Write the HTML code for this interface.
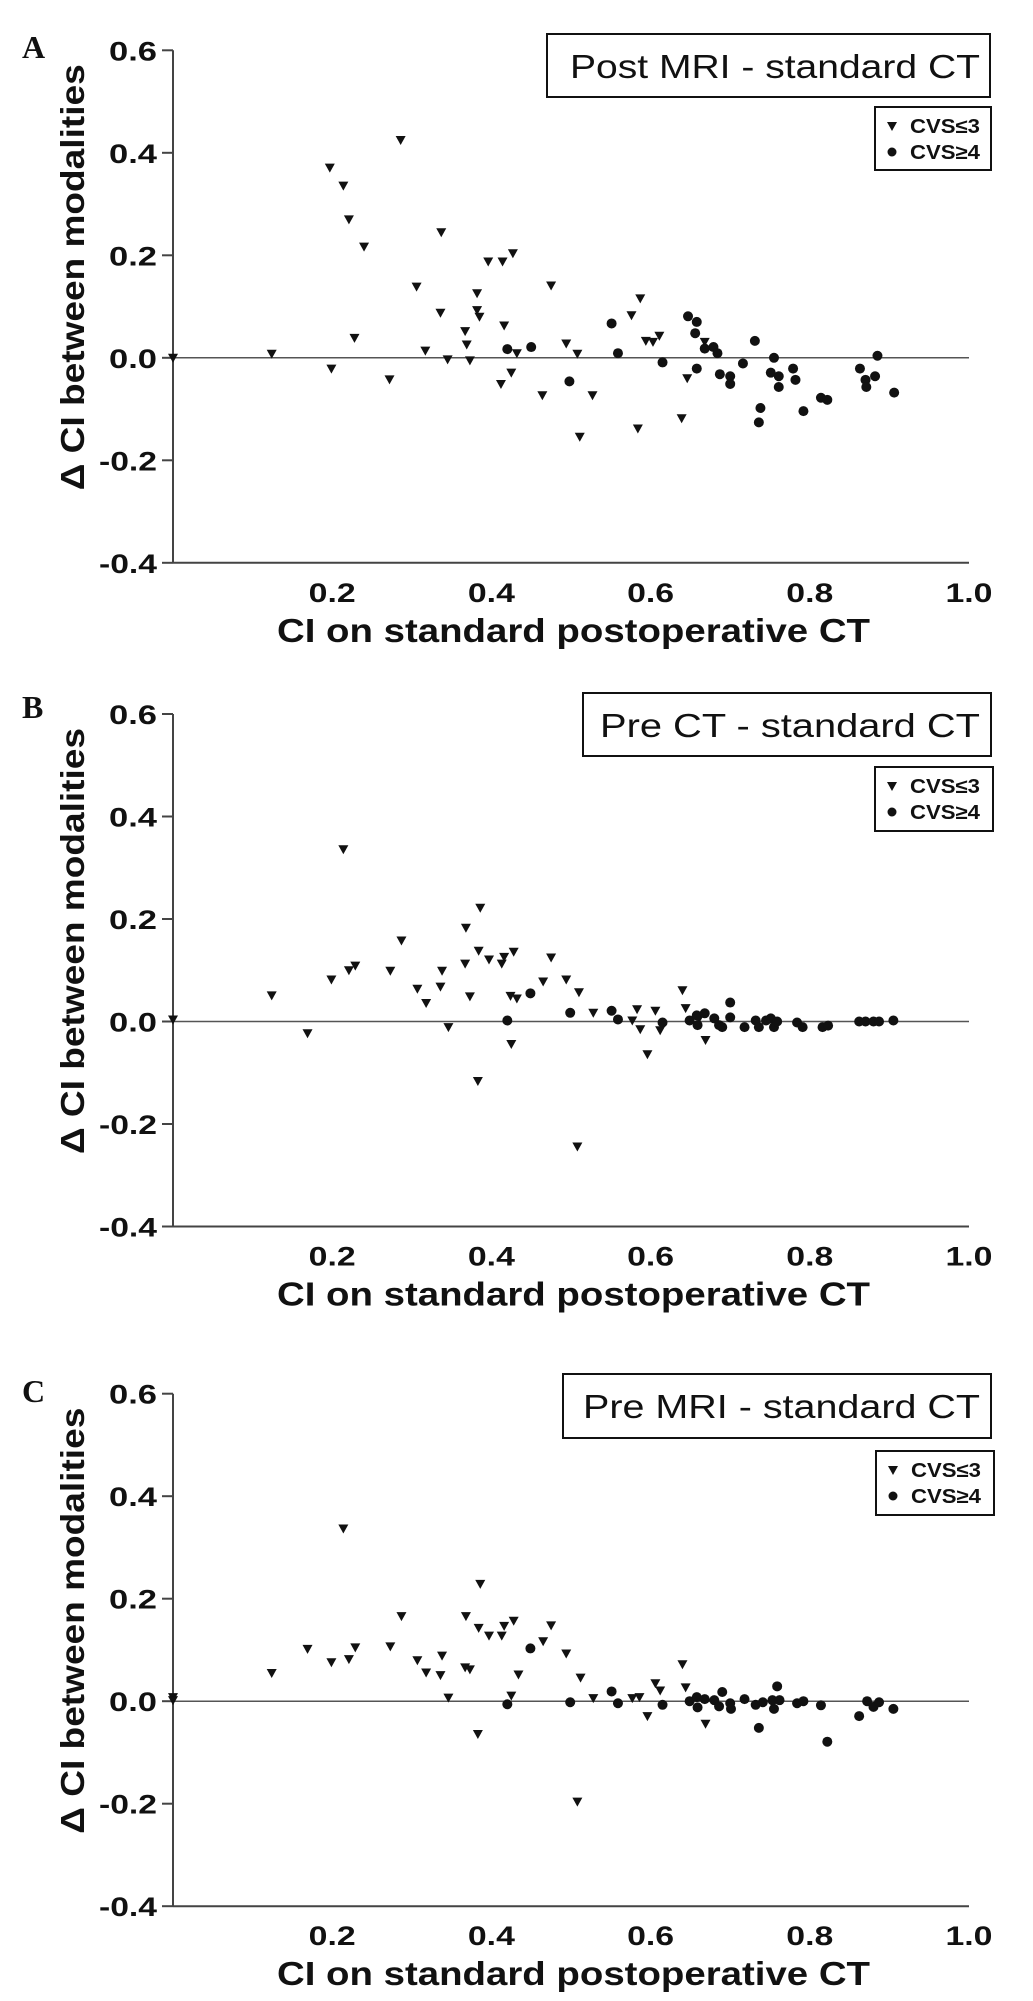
<!DOCTYPE html>
<html>
<head>
<meta charset="utf-8">
<style>
html,body{margin:0;padding:0;background:#fff;}
svg{display:block;}
text{font-family:"Liberation Sans",Arial,sans-serif;fill:#111;}
</style>
</head>
<body>
<svg id="fig" width="1033" height="2001" viewBox="0 0 1033 2001" xmlns="http://www.w3.org/2000/svg"></svg>
<script>
// ---- Panel A data (Post MRI - standard CT) ----
const aTriX=[0,0.124,0.197,0.214,0.221,0.24,0.228,0.199,0.286,0.272,0.306,0.317,0.337,0.336,0.345,0.367,0.369,0.382,0.382,0.385,0.373,0.396,0.414,0.427,0.416,0.412,0.425,0.432,0.464,0.475,0.494,0.508,0.511,0.527,0.576,0.587,0.584,0.594,0.603,0.611,0.639,0.646,0.668];
const aTriY=[0,0.008,0.371,0.336,0.27,0.217,0.039,-0.021,0.425,-0.042,0.139,0.014,0.245,0.088,-0.003,0.052,0.026,0.126,0.093,0.08,-0.005,0.188,0.188,0.204,0.063,-0.051,-0.029,0.009,-0.073,0.141,0.028,0.008,-0.154,-0.073,0.083,0.116,-0.138,0.033,0.031,0.043,-0.118,-0.04,0.031];
const aCirX=[0.42,0.45,0.498,0.551,0.559,0.615,0.647,0.658,0.656,0.658,0.668,0.679,0.684,0.687,0.7,0.7,0.716,0.731,0.738,0.736,0.755,0.751,0.761,0.761,0.779,0.782,0.792,0.814,0.822,0.863,0.87,0.871,0.882,0.885,0.906];
const aCirY=[0.017,0.021,-0.046,0.067,0.009,-0.009,0.081,0.07,0.048,-0.021,0.018,0.021,0.009,-0.032,-0.036,-0.051,-0.011,0.033,-0.098,-0.126,0,-0.029,-0.036,-0.057,-0.021,-0.043,-0.104,-0.078,-0.082,-0.021,-0.043,-0.057,-0.036,0.004,-0.068];
// ---- Panel B data (Pre CT - standard CT) ----
const bTriX=[0,0.124,0.169,0.199,0.214,0.221,0.229,0.273,0.287,0.307,0.318,0.338,0.336,0.346,0.368,0.367,0.373,0.386,0.384,0.383,0.397,0.413,0.416,0.428,0.424,0.432,0.425,0.465,0.475,0.494,0.51,0.508,0.528,0.577,0.583,0.587,0.596,0.606,0.612,0.64,0.644,0.669,0.661];
const bTriY=[0.004,0.051,-0.023,0.082,0.336,0.1,0.109,0.099,0.158,0.064,0.036,0.099,0.068,-0.011,0.183,0.113,0.049,0.222,0.138,-0.116,0.121,0.113,0.126,0.136,0.05,0.045,-0.044,0.078,0.125,0.082,0.057,-0.244,0.017,0.002,0.024,-0.015,-0.064,0.021,-0.017,0.061,0.026,-0.036,0.006];
const bCirX=[0.42,0.449,0.499,0.551,0.559,0.615,0.649,0.658,0.659,0.668,0.68,0.686,0.69,0.7,0.7,0.718,0.732,0.736,0.745,0.751,0.755,0.759,0.784,0.791,0.816,0.823,0.862,0.87,0.88,0.887,0.905];
const bCirY=[0.002,0.055,0.017,0.021,0.004,-0.002,0.002,0.012,-0.007,0.016,0.006,-0.007,-0.011,0.008,0.037,-0.011,0.002,-0.011,0.002,0.006,-0.011,0,-0.002,-0.011,-0.011,-0.008,0,0,0,0,0.002];
// ---- Panel C data (Pre MRI - standard CT) ----
const cTriX=[0,0,0.124,0.169,0.199,0.214,0.221,0.229,0.273,0.287,0.307,0.318,0.338,0.336,0.346,0.368,0.367,0.373,0.386,0.384,0.383,0.397,0.413,0.416,0.428,0.434,0.425,0.465,0.475,0.494,0.512,0.508,0.528,0.577,0.586,0.596,0.606,0.612,0.64,0.644,0.669];
const cTriY=[0.008,0.002,0.055,0.102,0.076,0.337,0.082,0.105,0.107,0.166,0.08,0.056,0.089,0.051,0.007,0.166,0.066,0.062,0.229,0.143,-0.064,0.128,0.128,0.147,0.157,0.052,0.011,0.117,0.148,0.093,0.046,-0.196,0.006,0.006,0.008,-0.029,0.035,0.021,0.072,0.027,-0.044];
const cCirX=[0.42,0.449,0.499,0.551,0.559,0.615,0.649,0.658,0.659,0.668,0.68,0.686,0.69,0.7,0.701,0.718,0.732,0.736,0.741,0.753,0.755,0.759,0.762,0.784,0.792,0.814,0.822,0.862,0.872,0.88,0.887,0.905];
const cCirY=[-0.006,0.103,-0.002,0.019,-0.004,-0.007,0,0.008,-0.012,0.004,0.002,-0.01,0.018,-0.004,-0.015,0.004,-0.007,-0.052,-0.002,0.002,-0.015,0.029,0.002,-0.004,0,-0.008,-0.079,-0.029,0,-0.011,-0.002,-0.015];
// ---- shared tick labels ----
const yTicks=[0.6,0.4,0.2,0.0,-0.2,-0.4];
const yTickLabels=["0.6","0.4","0.2","0.0","-0.2","-0.4"];
const xTicks=[0.2,0.4,0.6,0.8,1.0];
const xTickLabels=["0.2","0.4","0.6","0.8","1.0"];

const NS="http://www.w3.org/2000/svg";
const svg=document.getElementById('fig');
function mk(tag,attrs,parent){const e=document.createElementNS(NS,tag);for(const k in attrs)e.setAttribute(k,attrs[k]);(parent||svg).appendChild(e);return e;}

const panels=[
 {id:'a',letter:'A',title:'Post  MRI - standard CT',top:50.3,letterY:58,box:[547,34,443,63],textX:570,textW:410,leg:[875,107,116,63],tri:[aTriX,aTriY],cir:[aCirX,aCirY]},
 {id:'b',letter:'B',title:'Pre  CT - standard CT',top:714,letterY:718,box:[583,693,408,63],textX:600,textW:380,leg:[875,767,118,64],tri:[bTriX,bTriY],cir:[bCirX,bCirY]},
 {id:'c',letter:'C',title:'Pre  MRI - standard CT',top:1393.7,letterY:1402,box:[563,1374,428,64],textX:583,textW:397,leg:[876,1451,118,64],tri:[cTriX,cTriY],cir:[cCirX,cCirY]}
];

panels.forEach(p=>{
  const g=mk('g',{});
  
  
  const x0=173,x1=969;
  const yS=v=>p.top+(0.6-v)*512.5;
  const xS=v=>x0+v*(x1-x0);
  const L=mk('text',{x:22,y:p.letterY,style:'font-family:"Liberation Serif",serif;font-size:32px;font-weight:bold;'},g);
  L.textContent=p.letter;
  
  
  // axes
  const ya=mk('line',{x1:x0,y1:yS(0.6),x2:x0,y2:yS(-0.4),stroke:'#444','stroke-width':2},g);
  
  
  const xa=mk('line',{x1:x0,y1:yS(-0.4),x2:x1,y2:yS(-0.4),stroke:'#444','stroke-width':2},g);
  
  
  const zl=mk('line',{x1:x0,y1:yS(0),x2:x1,y2:yS(0),stroke:'#555','stroke-width':1.5},g);
  
  
  yTicks.forEach((v,i)=>{
    const t=mk('line',{x1:x0-11,y1:yS(v),x2:x0,y2:yS(v),stroke:'#444','stroke-width':2},g);
    
    
    const lb=mk('text',{x:157,y:yS(v)+10,'text-anchor':'end','font-size':27,'font-weight':'bold',textLength:yTickLabels[i].length>3?58:48,lengthAdjust:'spacingAndGlyphs'},g);
    lb.textContent=yTickLabels[i];
    
    
  });
  xTicks.forEach((v,i)=>{
    const lb=mk('text',{x:xS(v),y:yS(-0.4)+39,'text-anchor':'middle','font-size':27,'font-weight':'bold',textLength:47,lengthAdjust:'spacingAndGlyphs'},g);
    lb.textContent=xTickLabels[i];
    
    
  });
  const xt=mk('text',{x:277,y:yS(-0.4)+79,'font-size':33,'font-weight':'bold',textLength:593,lengthAdjust:'spacingAndGlyphs'},g);
  xt.textContent='CI on standard postoperative CT';
  
  
  const cy=yS(0.6)+257;
  const yt=mk('text',{x:0,y:0,'font-size':33,'font-weight':'bold','text-anchor':'middle',textLength:426,lengthAdjust:'spacingAndGlyphs',transform:'translate(84,'+(cy-30)+') rotate(-90)'},g);
  yt.textContent='\u0394 CI between modalities';
  
  
  // title box
  const tb=mk('rect',{x:p.box[0],y:p.box[1],width:p.box[2],height:p.box[3],fill:'#fff',stroke:'#111','stroke-width':2},g);
  
  
  const tt=mk('text',{x:p.textX,y:p.box[1]+44,'font-size':33,textLength:p.textW,lengthAdjust:'spacingAndGlyphs'},g);
  tt.textContent=p.title;
  
  
  // legend
  const lg=mk('rect',{x:p.leg[0],y:p.leg[1],width:p.leg[2],height:p.leg[3],fill:'#fff',stroke:'#111','stroke-width':2},g);
  
  
  const lx=p.leg[0]+17, ly1=p.leg[1]+19, ly2=p.leg[1]+45;
  const lt=mk('path',{d:`M${lx-5},${ly1-4} L${lx+5},${ly1-4} L${lx},${ly1+5} Z`,fill:'#111'},g);
  
  
  const ltx=mk('text',{x:lx+18,y:ly1+7,'font-size':20,'font-weight':'bold',textLength:70,lengthAdjust:'spacingAndGlyphs'},g);
  ltx.textContent='CVS\u22643';
  
  
  const lc=mk('circle',{cx:lx,cy:ly2,r:4.5,fill:'#111'},g);
  
  
  const lcx=mk('text',{x:lx+18,y:ly2+7,'font-size':20,'font-weight':'bold',textLength:70,lengthAdjust:'spacingAndGlyphs'},g);
  lcx.textContent='CVS\u22654';
  
  
  // points
  const [tx,ty]=p.tri, [cx,cyy]=p.cir;
  tx.forEach((v,i)=>{
    const px=xS(v), py=yS(ty[i]);
    const m=mk('path',{d:`M${px-5},${py-4} L${px+5},${py-4} L${px},${py+5} Z`,fill:'#111'},g);
    
    
  });
  cx.forEach((v,i)=>{
    const m=mk('circle',{cx:xS(v),cy:yS(cyy[i]),r:5,fill:'#111'},g);
    
    
  });
});
</script>
</body>
</html>
